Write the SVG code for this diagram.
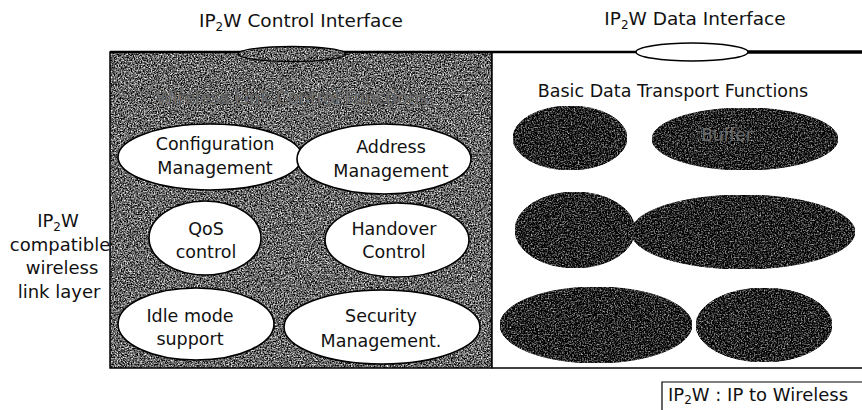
<svg xmlns="http://www.w3.org/2000/svg" width="862" height="410" viewBox="0 0 862 410">
<style>
.t{font-family:"DejaVu Sans","Liberation Sans",sans-serif;font-size:17.5px;fill:#111;text-anchor:middle}
.s{font-family:"DejaVu Sans","Liberation Sans",sans-serif;font-size:18px;fill:#111;text-anchor:middle}
.lg{font-family:"DejaVu Sans","Liberation Sans",sans-serif;font-size:18px;fill:#111;text-anchor:start}
.h{font-family:"DejaVu Sans","Liberation Sans",sans-serif;font-size:18.5px;fill:#111;text-anchor:middle}
.sub{font-size:12px}
.w{fill:#fff;stroke:#000;stroke-width:1.6}
.d{fill:#222;filter:url(#dark);stroke:#000;stroke-width:1}
</style>
<defs>
<filter id="grain" x="0" y="0" width="100%" height="100%" color-interpolation-filters="sRGB">
<feTurbulence type="fractalNoise" baseFrequency="0.7" numOctaves="3" seed="4" result="n"/>
<feColorMatrix in="n" type="saturate" values="0" result="g"/>
<feComponentTransfer in="g" result="c">
<feFuncR type="linear" slope="2.4" intercept="-0.8"/>
<feFuncG type="linear" slope="2.4" intercept="-0.8"/>
<feFuncB type="linear" slope="2.4" intercept="-0.8"/>
<feFuncA type="linear" slope="0" intercept="1"/>
</feComponentTransfer>
<feComposite in="c" in2="SourceAlpha" operator="in"/>
</filter>
<filter id="dark" x="0" y="0" width="100%" height="100%" color-interpolation-filters="sRGB">
<feTurbulence type="fractalNoise" baseFrequency="0.7" numOctaves="3" seed="9" result="n"/>
<feColorMatrix in="n" type="saturate" values="0" result="g"/>
<feComponentTransfer in="g" result="c">
<feFuncR type="linear" slope="2" intercept="-0.86"/>
<feFuncG type="linear" slope="2" intercept="-0.86"/>
<feFuncB type="linear" slope="2" intercept="-0.86"/>
<feFuncA type="linear" slope="0" intercept="1"/>
</feComponentTransfer>
<feComposite in="c" in2="SourceAlpha" operator="in"/>
</filter>
</defs>
<rect width="862" height="410" fill="#fff"/>

<!-- top labels -->
<g id="interface-labels">
<text class="h" x="301" y="27">IP<tspan class="sub" dy="4">2</tspan><tspan dy="-4">W Control Interface</tspan></text>
<text class="h" x="695" y="25">IP<tspan class="sub" dy="4">2</tspan><tspan dy="-4">W Data Interface</tspan></text>
</g>

<!-- side label -->
<g id="layer-label">
<text class="s" x="58" y="227">IP<tspan class="sub" dy="4">2</tspan><tspan dy="-4">W</tspan></text>
<text class="s" x="60" y="251">compatible</text>
<text class="s" x="62" y="274">wireless</text>
<text class="s" x="59" y="298">link layer</text>
</g>

<!-- control box -->
<g id="control-box">
<rect x="110" y="52" width="382" height="316" fill="#666" filter="url(#grain)"/>
<rect x="110" y="52" width="382" height="316" fill="none" stroke="#000" stroke-width="1.5"/>
<text x="292" y="104" font-family="DejaVu Sans, sans-serif" font-size="17.5" text-anchor="middle" fill="#8a8a8a" stroke="#444" stroke-width="0.6">Wireless Link Control Functions</text>
</g>

<!-- data box -->
<g id="data-box">
<rect x="492" y="53" width="370" height="315" fill="#fff"/>
<line x1="492" y1="368" x2="862" y2="368" stroke="#000" stroke-width="1.5"/>
<line x1="492" y1="52" x2="492" y2="368" stroke="#000" stroke-width="1.5"/>
<text x="673" y="97" font-family="DejaVu Sans, sans-serif" font-size="17.5" text-anchor="middle" fill="#111">Basic Data Transport Functions</text>
</g>

<!-- interface lines -->
<g id="connectors">
<line x1="110" y1="52" x2="640" y2="52" stroke="#000" stroke-width="2.5"/>
<line x1="745" y1="52" x2="862" y2="52" stroke="#000" stroke-width="3.5"/>
<ellipse cx="292" cy="54" rx="54" ry="7.5" fill="#777" filter="url(#grain)"/>
<ellipse cx="292" cy="54" rx="54" ry="7.5" fill="none" stroke="#000" stroke-width="1.3"/>
<ellipse cx="692" cy="52" rx="56" ry="9" fill="#fff" stroke="#000" stroke-width="1.5"/>
</g>

<!-- control functions -->
<g id="config-mgmt"><ellipse class="w" cx="210" cy="157" rx="92" ry="33"/>
<text class="t" x="215" y="150">Configuration</text><text class="t" x="215" y="174">Management</text></g>
<g id="address-mgmt"><ellipse class="w" cx="384" cy="159" rx="87" ry="35"/>
<text class="t" x="391" y="153">Address</text><text class="t" x="391" y="177">Management</text></g>
<g id="qos-control"><ellipse class="w" cx="205" cy="238" rx="56" ry="37"/>
<text class="t" x="206" y="235">QoS</text><text class="t" x="206" y="258">control</text></g>
<g id="handover-control"><ellipse class="w" cx="397" cy="240" rx="72" ry="37"/>
<text class="t" x="394" y="235">Handover</text><text class="t" x="394" y="258">Control</text></g>
<g id="idle-mode"><ellipse class="w" cx="196" cy="324" rx="78" ry="36"/>
<text class="t" x="190" y="322">Idle mode</text><text class="t" x="190" y="345">support</text></g>
<g id="security-mgmt"><ellipse class="w" cx="382" cy="327" rx="98" ry="37"/>
<text class="t" x="381" y="322">Security</text><text class="t" x="381" y="347">Management.</text></g>

<!-- data transport functions -->
<g id="data-fn-1"><ellipse class="d" cx="570" cy="138" rx="57" ry="32"/></g>
<g id="data-fn-2"><ellipse class="d" cx="745" cy="139" rx="93" ry="31"/>
<text x="727" y="141" font-family="DejaVu Sans, sans-serif" font-size="17" text-anchor="middle" fill="#6a6a6a">Buffer</text></g>
<g id="data-fn-3"><ellipse class="d" cx="575" cy="230" rx="60" ry="38"/></g>
<g id="data-fn-4"><ellipse class="d" cx="743" cy="232" rx="112" ry="37"/></g>
<g id="data-fn-5"><ellipse class="d" cx="596" cy="325" rx="96" ry="38"/></g>
<g id="data-fn-6"><ellipse class="d" cx="764" cy="325" rx="68" ry="37"/></g>

<!-- legend -->
<g id="legend">
<polyline points="662,410 662,382 862,382" fill="none" stroke="#000" stroke-width="1.2"/>
<text class="lg" x="668" y="401">IP<tspan class="sub" dy="3">2</tspan><tspan dy="-3">W : IP to Wireless</tspan></text>
</g>
</svg>
